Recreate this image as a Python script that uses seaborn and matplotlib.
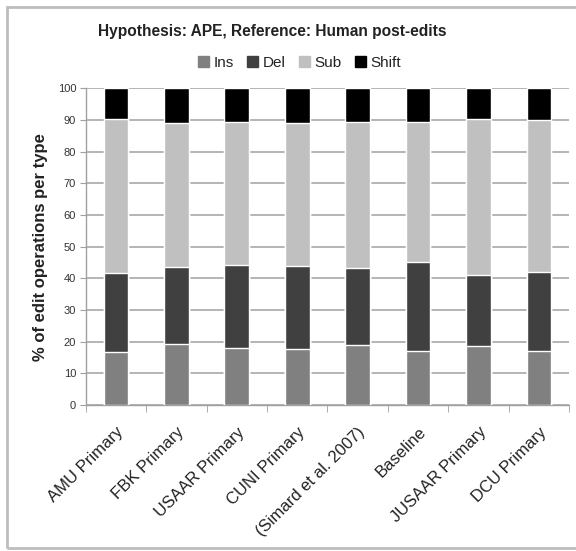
import matplotlib
matplotlib.use("Agg")
import matplotlib.pyplot as plt
import matplotlib.patches as mpatches
import numpy as np
import pandas as pd
import seaborn as sns

systems = ["AMU Primary", "FBK Primary", "USAAR Primary", "CUNI Primary",
           "(Simard et al. 2007)", "Baseline", "JUSAAR Primary", "DCU Primary"]
ins = [16.6, 19.4, 18.1, 17.8, 19.0, 17.1, 18.7, 17.1]
dele = [25.0, 24.1, 26.2, 26.1, 24.1, 27.9, 22.4, 24.8]
sub = [48.8, 45.5, 45.0, 45.1, 46.2, 44.3, 49.1, 47.9]
shift = [9.6, 11.0, 10.7, 11.0, 10.7, 10.7, 9.8, 10.2]

series = ["Ins", "Del", "Sub", "Shift"]
colors = {"Ins": "#808080", "Del": "#404040", "Sub": "#c0c0c0", "Shift": "#000000"}

sns.set_style("white")
plt.rcParams["font.family"] = ["Liberation Sans", "DejaVu Sans"]

df = pd.DataFrame({"system": systems, "Ins": ins, "Del": dele, "Sub": sub, "Shift": shift})
cum = df[series].cumsum(axis=1)
cum["system"] = df["system"]

fig = plt.figure(figsize=(5.76, 5.51), dpi=100)
ax = fig.add_axes([0.149, 0.265, 0.839, 0.575])

# stacked bars: draw tallest cumulative first
for s in reversed(series):
    sns.barplot(data=cum, x="system", y=s, color=colors[s], width=0.41,
                saturation=1, ax=ax, zorder=3)

ax.set_ylim(0, 100)
ax.set_xlim(-0.5, len(systems) - 0.5)
ax.set_yticks(range(0, 101, 10))
ax.yaxis.grid(True, color="#a8a8a8", linewidth=1.2, zorder=0)
ax.set_axisbelow(True)
for sp in ["top", "right"]:
    ax.spines[sp].set_visible(False)
for sp in ["left", "bottom"]:
    ax.spines[sp].set_color("#a0a0a0")
    ax.spines[sp].set_linewidth(1.0)

ax.tick_params(axis="y", which="major", left=True, length=4, color="#a0a0a0",
               labelsize=8, labelcolor="#333333", pad=3)
ax.set_xticks(np.arange(len(systems)))
ax.set_xticklabels(systems, rotation=45, ha="right", rotation_mode="anchor",
                   fontsize=12, color="#222222")
ax.tick_params(axis="x", which="major", length=0, pad=14)
ax.set_xticks(np.arange(-0.5, len(systems)), minor=True)
ax.tick_params(axis="x", which="minor", bottom=True, length=5, color="#a0a0a0")

ax.set_xlabel("")
ax.set_ylabel("% of edit operations per type", fontsize=12, fontweight="bold",
              color="#222222", labelpad=7)

fig.text(0.472, 0.943, "Hypothesis: APE, Reference: Human post-edits",
         ha="center", va="center", fontsize=11.2, fontweight="bold", color="#222222")

handles = [mpatches.Patch(color=colors[s], label=s) for s in series]
fig.legend(handles=handles, loc="center", bbox_to_anchor=(0.52, 0.886), ncol=4,
           frameon=False, fontsize=11, handlelength=0.7, handleheight=0.7,
           handletextpad=0.3, columnspacing=0.9, labelcolor="#222222")

frame = mpatches.Rectangle((7 / 576, 3 / 551), 1.2, 541 / 551, transform=fig.transFigure,
                           fill=False, edgecolor="#bdbdbd", linewidth=2.0)
fig.patches.append(frame)

fig.savefig("out.png", dpi=100)
